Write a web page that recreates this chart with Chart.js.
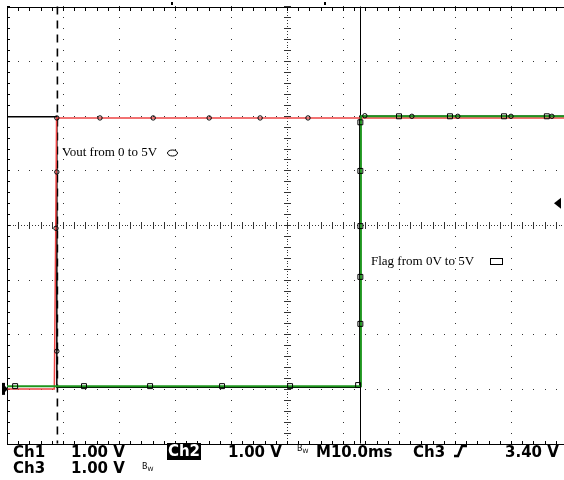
<!DOCTYPE html>
<html>
<head>
<meta charset="utf-8">
<script src="https://cdn.jsdelivr.net/npm/chart.js@4/dist/chart.umd.min.js"></script>
<style>
html, body { margin: 0; padding: 0; background: #fff; overflow: hidden; }
#wrap { position: relative; width: 572px; height: 480px; }
.lbl { position: absolute; white-space: nowrap; font-family: "Liberation Serif", serif; font-size: 13px; line-height: 13px; color: #000; }
.st { position: absolute; white-space: nowrap; font-family: "DejaVu Sans", sans-serif; font-weight: bold; font-size: 15px; line-height: 16px; color: #000; }
.inv { position: absolute; background: #000; color: #fff; width: 34px; height: 17px; text-align: center;
       font-family: "DejaVu Sans", sans-serif; font-weight: bold; font-size: 15px; line-height: 17px; }
.bw { position: absolute; font-family: "DejaVu Sans", sans-serif; font-size: 8px; line-height: 8px; color: #000; }
.bw span { font-size: 6px; position: relative; top: 2px; }
</style>
</head>
<body>
<div id="wrap">
  <canvas id="scope"></canvas>

  <div class="lbl" style="left:62px;top:145px">Vout from 0 to 5V</div>
  <div class="lbl" style="left:371px;top:253.5px">Flag from 0V to 5V</div>

  <div class="st" style="left:13px;top:444px">Ch1</div>
  <div class="st" style="left:71px;top:444px">1.00 V</div>
  <div class="inv" style="left:167px;top:443px">Ch2</div>
  <div class="st" style="left:228px;top:444px">1.00 V</div>
  <div class="bw" style="left:297px;top:445px">B<span>W</span></div>
  <div class="st" style="left:316px;top:444px">M10.0ms</div>
  <div class="st" style="left:413px;top:444px">Ch3</div>
  <div class="st" style="left:505px;top:444px">3.40 V</div>

  <div class="st" style="left:13px;top:460px">Ch3</div>
  <div class="st" style="left:71px;top:460px">1.00 V</div>
  <div class="bw" style="left:142px;top:462.5px">B<span>W</span></div>
</div>

<script>
// screen: 10 ms/div horizontally, 1 V/div vertically
const timeMin = -50, timeMax = 50;
const voltMin = -1, voltMax = 7;

// Ch1 - Vout (red)
const vout_t = [-50, -41.55, -41.3, -41.15, 50];
const vout_v = [0.0, 0.0, 2.9, 4.96, 4.96];

// Ch2 - Flag (green)
const flag_t = [-50, 13.1, 13.2, 50];
const flag_v = [0.05, 0.05, 4.99, 4.99];

// Ch3 (black)
const ch3_t = [-50, -41.1, -41.1, 13.0, 13.0, 50];
const ch3_v = [4.98, 4.98, 0.03, 0.03, 4.99, 4.99];

// markers on the traces
const voutMark_t = [-41.1, -41.1, -41.25, -41.1, -33.4, -23.9, -13.9, -4.8, 3.75, 13.9, 22.3, 30.5, 40.0, 47.3];
const voutMark_v = [4.96, 3.97, 2.94, 0.69, 4.96, 4.96, 4.96, 4.96, 4.96, 5.0, 4.99, 4.99, 4.99, 4.99];
const flagMark_t = [-48.55, -36.25, -24.45, -11.6, 0.55, 12.7, 13.1, 13.1, 13.1, 13.1, 13.1, 20.0, 29.1, 38.75, 46.4];
const flagMark_v = [0.05, 0.05, 0.05, 0.05, 0.05, 0.07, 1.19, 2.05, 2.98, 3.99, 4.88, 4.99, 4.99, 4.99, 4.99];

// cursors and trigger
const cursorDashed = -41.0;
const cursorSolid = 13.0;
const trigLevel = 3.4;
const groundLevel = 0;

function pts(ts, vs) {
    return ts.map((t, i) => ({ x: t, y: vs[i] }));
}

// grid, borders, cursors and the little scope markers
const scopeDecor = {
    id: 'scopeDecor',
    beforeDatasetsDraw(chart) {
        const ctx = chart.ctx;
        const xs = chart.scales.x, ys = chart.scales.y;
        const a = chart.chartArea;
        ctx.save();
        ctx.fillStyle = '#333';

        // dotted division lines
        for (let t = timeMin + 10; t < timeMax; t += 10) {
            if (t === 0) continue;
            const px = Math.round(xs.getPixelForValue(t));
            for (let v = voltMin; v <= voltMax + 0.001; v += 0.2) {
                ctx.fillRect(px, Math.round(ys.getPixelForValue(v)), 1, 1);
            }
        }
        for (let v = voltMin + 1; v < voltMax; v += 1) {
            if (v === 3) continue;
            const py = Math.round(ys.getPixelForValue(v));
            for (let t = timeMin; t <= timeMax; t += 2) {
                ctx.fillRect(Math.round(xs.getPixelForValue(t)), py, 1, 1);
            }
        }

        // center axes with ticks
        const cx = Math.round(xs.getPixelForValue(0));
        const cy = Math.round(ys.getPixelForValue(3));
        for (let t = timeMin; t <= timeMax; t += 0.5) {
            ctx.fillRect(Math.round(xs.getPixelForValue(t)), cy, 1, 1);
        }
        for (let t = timeMin; t <= timeMax; t += 2) {
            ctx.fillRect(Math.round(xs.getPixelForValue(t)), cy - 3, 1, 7);
        }
        for (let v = voltMin; v <= voltMax + 0.001; v += 0.05) {
            ctx.fillRect(cx, Math.round(ys.getPixelForValue(v)), 1, 1);
        }
        for (let v = voltMin; v <= voltMax + 0.001; v += 0.2) {
            ctx.fillRect(cx - 3, Math.round(ys.getPixelForValue(v)), 7, 1);
        }

        // borders with ticks
        ctx.fillStyle = '#000';
        const L = Math.round(a.left), T = Math.round(a.top), B = Math.round(a.bottom);
        ctx.fillRect(L, T, a.right - L, 1);
        ctx.fillRect(L, B, a.right - L, 1);
        ctx.fillRect(L, T, 1, B - T + 1);
        for (let t = timeMin; t <= timeMax; t += 2) {
            const px = Math.round(xs.getPixelForValue(t));
            ctx.fillRect(px, T, 1, 4);
            ctx.fillRect(px, B - 3, 1, 4);
        }
        for (let v = voltMin; v <= voltMax + 0.001; v += 0.2) {
            ctx.fillRect(L, Math.round(ys.getPixelForValue(v)), 3, 1);
        }

        // cursors
        ctx.strokeStyle = '#000';
        ctx.lineWidth = 1.6;
        ctx.setLineDash([8, 6]);
        const dx = xs.getPixelForValue(cursorDashed);
        ctx.beginPath();
        ctx.moveTo(dx, a.top);
        ctx.lineTo(dx, a.bottom);
        ctx.stroke();
        ctx.setLineDash([]);
        ctx.lineWidth = 1;
        const sx = Math.round(xs.getPixelForValue(cursorSolid)) + 0.5;
        ctx.beginPath();
        ctx.moveTo(sx, a.top);
        ctx.lineTo(sx, a.bottom);
        ctx.stroke();

        // small marks above the top border
        ctx.fillRect(171, 2, 2, 3);
        ctx.fillRect(324, 2, 2, 3);
        ctx.restore();
    },
    afterDraw(chart) {
        const ctx = chart.ctx;
        const ys = chart.scales.y;
        ctx.save();
        ctx.fillStyle = '#000';
        ctx.strokeStyle = '#000';

        // ground marker on the left
        const gy = ys.getPixelForValue(groundLevel);
        ctx.fillRect(2, gy - 6, 3, 12);
        ctx.beginPath();
        ctx.moveTo(4, gy - 4);
        ctx.lineTo(8, gy);
        ctx.lineTo(4, gy + 4);
        ctx.fill();

        // trigger level arrow on the right
        const ty = ys.getPixelForValue(trigLevel);
        ctx.beginPath();
        ctx.moveTo(554, ty);
        ctx.lineTo(561, ty - 5.5);
        ctx.lineTo(561, ty + 5.5);
        ctx.closePath();
        ctx.fill();

        // legend symbols next to the notes
        ctx.lineWidth = 1;
        ctx.beginPath();
        ctx.ellipse(172.5, 153, 5, 3, 0, 0, Math.PI * 2);
        ctx.stroke();
        ctx.strokeRect(490.5, 258.5, 12, 6);

        // rising-edge trigger symbol in the status line
        ctx.lineWidth = 2.4;
        ctx.beginPath();
        ctx.moveTo(454, 456);
        ctx.lineTo(458, 456);
        ctx.lineTo(462, 446);
        ctx.lineTo(467, 446);
        ctx.stroke();
        ctx.restore();
    }
};

const markerStyle = {
    showLine: false,
    pointBorderColor: '#000',
    pointBackgroundColor: 'rgba(0,0,0,0)',
    pointBorderWidth: 1
};

new Chart(document.getElementById('scope'), {
    type: 'line',
    data: {
        datasets: [
            Object.assign({ data: pts(flagMark_t, flagMark_v), pointStyle: 'rect', pointRadius: 3.5 }, markerStyle),
            Object.assign({ data: pts(voutMark_t, voutMark_v), pointStyle: 'circle', pointRadius: 2.2 }, markerStyle),
            { data: pts(flag_t, flag_v), borderColor: '#1e961e', borderWidth: 2, pointRadius: 0 },
            { data: pts(vout_t, vout_v), borderColor: '#ee4444', borderWidth: 1.5, pointRadius: 0 },
            { data: pts(ch3_t, ch3_v), borderColor: '#000', borderWidth: 1.5, pointRadius: 0 }
        ]
    },
    options: {
        responsive: true,
        maintainAspectRatio: false,
        animation: false,
        events: [],
        layout: { padding: { left: 7, top: 6.5, right: 5, bottom: 36.5 } },
        elements: { line: { tension: 0, fill: false } },
        scales: {
            x: { type: 'linear', min: timeMin, max: timeMax, display: false },
            y: { type: 'linear', min: voltMin, max: voltMax, display: false }
        },
        plugins: {
            legend: { display: false },
            tooltip: { enabled: false }
        }
    },
    plugins: [scopeDecor]
});
</script>
</body>
</html>
